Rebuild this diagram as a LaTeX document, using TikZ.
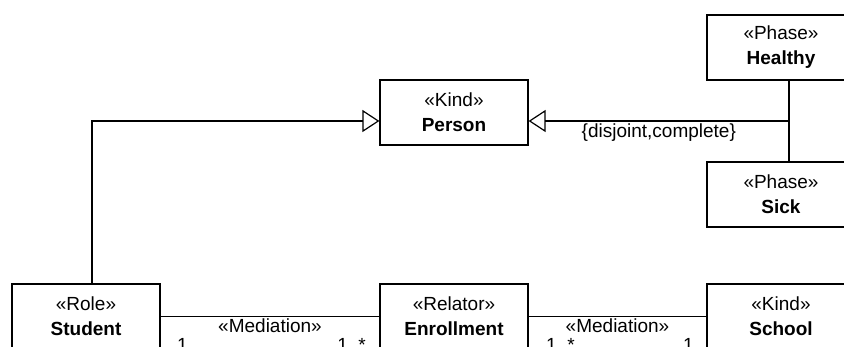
\documentclass[tikz,border=0pt]{standalone}
\usepackage{fontspec}
\setmainfont{Liberation Sans}
\usepackage{tikz}
\usetikzlibrary{arrows.meta}

\tikzset{
    classbox/.style={draw, line width=1.2pt, minimum width=148pt, minimum height=65pt,
        inner sep=0pt, align=center, font=\fontsize{19}{25}\selectfont},
    generalization/.style={line width=1.2pt, -{Triangle[open, length=17pt, width=22pt]}},
    association/.style={line width=1.2pt},
    mult/.style={inner sep=0pt, font=\fontsize{19}{20}\selectfont},
    lbl/.style={inner sep=2pt, font=\fontsize{19}{20}\selectfont}
}

\begin{document}
\begin{tikzpicture}[x=1pt, y=-1pt]
        \useasboundingbox (0, 0) rectangle (844, 347);
        \node[classbox] (person)     at (454, 112.5) {«Kind»\\\textbf{Person}};
        \node[classbox] (healthy)    at (781,  47.5) {«Phase»\\\textbf{Healthy}};
        \node[classbox] (sick)       at (781, 194.5) {«Phase»\\\textbf{Sick}};
        \node[classbox] (student)    at ( 86, 316.5) {«Role»\\\textbf{Student}};
        \node[classbox] (enrollment) at (454, 316.5) {«Relator»\\\textbf{Enrollment}};
        \node[classbox] (school)     at (781, 316.5) {«Kind»\\\textbf{School}};
        \coordinate (gs-joint)  at (789, 121);
        \coordinate (role-bend) at ( 92, 121);
        \draw[association] (healthy.south -| gs-joint) -- (sick.north -| gs-joint);
        \draw[generalization] (gs-joint) -- (gs-joint -| person.east)
            node[lbl, midway, below] {\{disjoint,complete\}};
        \draw[generalization] (student.north -| role-bend) |- (person.west |- role-bend);
        \draw[association] (student.east) -- (enrollment.west)
            node[lbl, midway, below] {«Mediation»}
            node[mult, pos=0, anchor=base west, xshift=16pt, yshift=-35pt] {1}
            node[mult, pos=1, anchor=base east, xshift=-13pt, yshift=-35pt] {1..*};
        \draw[association] (enrollment.east) -- (school.west)
            node[lbl, midway, below] {«Mediation»}
            node[mult, pos=0, anchor=base west, xshift=17pt, yshift=-35pt] {1..*}
            node[mult, pos=1, anchor=base east, xshift=-12pt, yshift=-35pt] {1};
    \end{tikzpicture}
\end{document}
